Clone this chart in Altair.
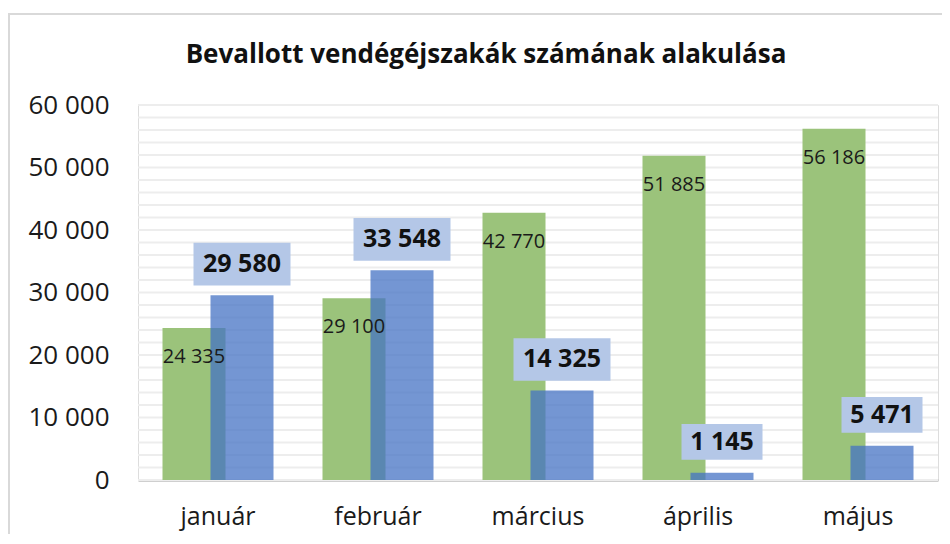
import altair as alt
import pandas as pd

months = ["január", "február", "március", "április", "május"]
green_vals = [24335, 29100, 42770, 51885, 56186]
blue_vals = [29580, 33548, 14325, 1145, 5471]
title_text = "Bevallott vendégéjszakák számának alakulása"
grid_ticks = list(range(0, 60001, 2000))
label_ticks = list(range(0, 60001, 10000))

df = pd.DataFrame({"month": months, "green": green_vals, "blue": blue_vals})
grid_df = pd.DataFrame({"v": grid_ticks})

FONT = "Open Sans"
fmt = "replace(format(datum.{f}, ','), ',', ' ')"

x_enc = alt.X("month:N", sort=months, title=None,
              scale=alt.Scale(paddingInner=0, paddingOuter=0),
              axis=alt.Axis(labelAngle=0, labelFontSize=25, labelFont=FONT, labelColor="#1a1a1a",
                            domainColor="#BFBFBF", domainWidth=2.5, ticks=False, tickSize=0,
                            labelPadding=24))
y_scale = alt.Scale(domain=[0, 60000], nice=False)
y_axis = alt.Axis(values=label_ticks, grid=False, domain=False, ticks=False, tickSize=0,
                  labelPadding=29, labelOverlap=False,
                  labelFontSize=26, labelFont=FONT, labelColor="#1a1a1a",
                  labelExpr="replace(format(datum.value, ','), ',', ' ')")


def y_enc(field):
    return alt.Y(field, scale=y_scale, axis=y_axis, title=None)


base = alt.Chart(df)

border = base.mark_rect(fill=None, stroke="#D9D9D9", strokeWidth=2).encode(
    x=alt.value(-129), x2=alt.value(830), y=alt.value(-91), y2=alt.value(460)
).transform_filter("datum.month == 'január'")

grid = alt.Chart(grid_df).mark_rule(color="#EDEDED", strokeWidth=2).encode(
    y=y_enc("v:Q"), x=alt.value(0), x2=alt.value(800))

green_bars = base.mark_bar(width=63, xOffset=-24, color="#9BC37B").encode(
    x=x_enc, y=y_enc("green:Q"))

blue_bars = base.mark_bar(width=63, xOffset=24, color="#4472C4", opacity=0.74).encode(
    x=x_enc, y=y_enc("blue:Q"))

green_text = base.transform_calculate(lbl=fmt.format(f="green")).mark_text(
    xOffset=-24, dy=29, baseline="middle", align="center", fontSize=20, font=FONT, color="#1a1a1a"
).encode(x=x_enc, y=y_enc("green:Q"), text="lbl:N")

blue_box = base.transform_calculate(
    lbl=fmt.format(f="blue"),
    sz="pow(16 * length(datum.lbl) + 1, 2)"
).mark_point(shape="M-1,-0.44L1,-0.44L1,0.44L-1,0.44Z", filled=True, fill="#B4C7E7",
             opacity=1, strokeWidth=0, xOffset=24, yOffset=-31).encode(
    x=x_enc, y=y_enc("blue:Q"), size=alt.Size("sz:Q", scale=None, legend=None))

blue_text = base.transform_calculate(lbl=fmt.format(f="blue")).mark_text(
    xOffset=24, dy=-31, baseline="middle", align="center", fontSize=25, fontWeight="bold",
    font=FONT, color="#111111"
).encode(x=x_enc, y=y_enc("blue:Q"), text="lbl:N")

chart = alt.layer(border, grid, green_bars, blue_bars, green_text, blue_box, blue_text).properties(
    width=800, height=375,
    title=alt.TitleParams(title_text, fontSize=26, font=FONT, fontWeight="bold", color="#111111",
                          anchor="middle", dx=-52, offset=0, dy=55),
    autosize=alt.AutoSizeParams(type="none"),
    padding={"left": 130, "top": 97, "right": 4, "bottom": 54},
).configure_view(stroke=None).configure(background="white")

chart.save("out.html", embed_options={"renderer": "svg", "actions": False})
